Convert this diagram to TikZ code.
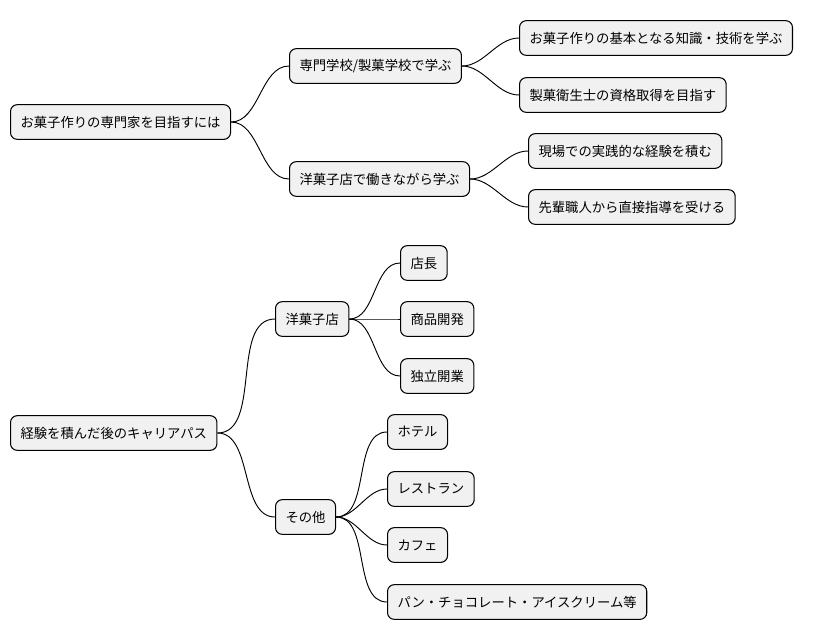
\documentclass[tikz,border=0pt]{standalone}
\usepackage{fontspec}
\setmainfont{Noto Sans CJK JP}
\begin{document}
\begin{tikzpicture}[x=0.75pt, y=-0.75pt,
    topic/.style={draw=black, fill=boxfill, rounded corners=5pt, line width=0.8pt,
        minimum height=26pt, inner xsep=7.5pt, anchor=west, font=\fontsize{10pt}{12pt}\selectfont},
    link/.style={draw=black, line width=0.7pt}]
    % Define colors
    \definecolor{boxfill}{RGB}{241,241,241}

    \useasboundingbox (0,0) rectangle (815,640);

    % First tree
    \node[topic] (goal) at (10,122) {お菓子作りの専門家を目指すには};
    \node[topic] (school) at (289,66) {専門学校/製菓学校で学ぶ};
    \node[topic] (basics) at (519,38) {お菓子作りの基本となる知識・技術を学ぶ};
    \node[topic] (license) at (519,95) {製菓衛生士の資格取得を目指す};
    \node[topic] (work) at (289,179) {洋菓子店で働きながら学ぶ};
    \node[topic] (practice) at (528,151) {現場での実践的な経験を積む};
    \node[topic] (mentor) at (528,207) {先輩職人から直接指導を受ける};

    % Second tree
    \node[topic] (career) at (10,433) {経験を積んだ後のキャリアパス};
    \node[topic] (shop) at (275,319) {洋菓子店};
    \node[topic] (chief) at (400,263) {店長};
    \node[topic] (develop) at (400,319) {商品開発};
    \node[topic] (own) at (400,376) {独立開業};
    \node[topic] (other) at (275,517) {その他};
    \node[topic] (hotel) at (387,432) {ホテル};
    \node[topic] (restaurant) at (387,489) {レストラン};
    \node[topic] (cafe) at (387,545) {カフェ};
    \node[topic] (misc) at (387,602) {パン・チョコレート・アイスクリーム等};

    % Draw branches
    \foreach \from/\to in {goal/school, goal/work, school/basics, school/license,
        work/practice, work/mentor, career/shop, career/other, shop/chief,
        shop/develop, shop/own, other/hotel, other/restaurant, other/cafe, other/misc}
        {
        \draw[link] (\from.east) to[out=0, in=180, looseness=0.9] (\to.west);
    }
\end{tikzpicture}
\end{document}
